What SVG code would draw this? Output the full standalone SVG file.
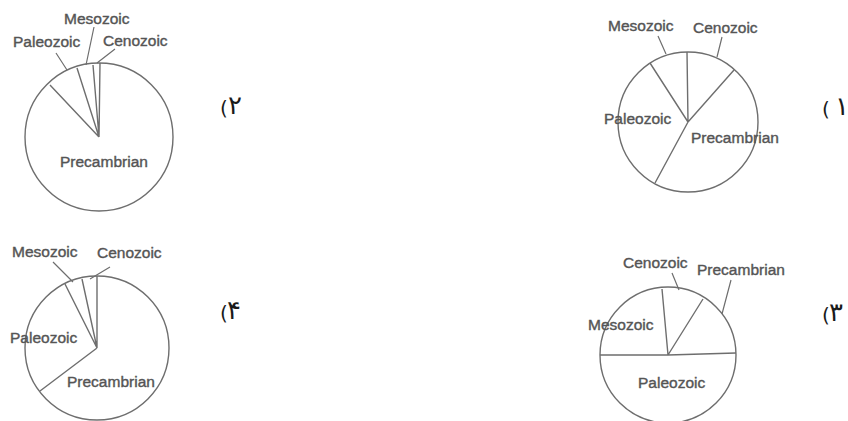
<svg xmlns="http://www.w3.org/2000/svg" width="848" height="421" viewBox="0 0 848 421">
<style>
.pie{fill:#fff;stroke:#6e6e6e;stroke-width:1.4}
.seg{fill:none;stroke:#6e6e6e;stroke-width:1.4}
.lead{fill:none;stroke:#6e6e6e;stroke-width:1.2}
.lbl{font-family:"Liberation Sans",Arial,sans-serif;font-size:15.5px;fill:#555;stroke:#555;stroke-width:0.4}
.par{font-family:"DejaVu Sans",sans-serif;font-size:20px;fill:#1a1a1a}
.num{font-family:"DejaVu Sans",sans-serif;font-size:26px;fill:#1a1a1a}
</style>
<rect width="848" height="421" fill="#fff"/>
<g id="pie2">
<circle class="pie" cx="99" cy="137" r="74"/>
<path class="seg" d="M99,137 L100,63 M99,137 L93,65 M99,137 L77,68 M99,137 L50,85"/>
<path class="lead" d="M56,53 L67,70 M94,27 L86,65 M115,49 L97,63"/>
<text class="lbl" x="64" y="24">Mesozoic</text>
<text class="lbl" x="13" y="47">Paleozoic</text>
<text class="lbl" x="103" y="46">Cenozoic</text>
<text class="lbl" x="60" y="167">Precambrian</text>
<text class="par" x="220" y="115">(</text>
<text class="num" x="228" y="114">۲</text>
</g>
<g id="pie1">
<circle class="pie" cx="688" cy="122" r="70"/>
<path class="seg" d="M688,122 L687,52 M688,122 L650,63 M688,122 L734,70 M688,122 L655,183"/>
<path class="lead" d="M658,36 L666,54 M722,37 L717,57"/>
<text class="lbl" x="608" y="31">Mesozoic</text>
<text class="lbl" x="693" y="33">Cenozoic</text>
<text class="lbl" x="604" y="124">Paleozoic</text>
<text class="lbl" x="691" y="143">Precambrian</text>
<text class="par" x="822" y="116">(</text>
<text class="num" x="835" y="115">۱</text>
</g>
<g id="pie4">
<circle class="pie" cx="97" cy="348" r="72"/>
<path class="seg" d="M97,348 L97,276 M97,348 L82,279 M97,348 L65,284 M97,348 L40,391"/>
<path class="lead" d="M53,262 L73,282 M110,267 L90,279"/>
<text class="lbl" x="12" y="257">Mesozoic</text>
<text class="lbl" x="97" y="258">Cenozoic</text>
<text class="lbl" x="10" y="343">Paleozoic</text>
<text class="lbl" x="67" y="387">Precambrian</text>
<text class="par" x="220" y="320">(</text>
<text class="num" x="227" y="319">۴</text>
</g>
<g id="pie3">
<circle class="pie" cx="668" cy="355" r="68"/>
<path class="seg" d="M600,355 L668,355 L736,353 M668,355 L662,289 M668,355 L703,299"/>
<path class="lead" d="M672,273 L679,290 M731,280 L722,314"/>
<text class="lbl" x="623" y="268">Cenozoic</text>
<text class="lbl" x="697" y="275">Precambrian</text>
<text class="lbl" x="588" y="330">Mesozoic</text>
<text class="lbl" x="638" y="388">Paleozoic</text>
<text class="par" x="822" y="322">(</text>
<text class="num" x="829" y="321">۳</text>
</g>
</svg>
